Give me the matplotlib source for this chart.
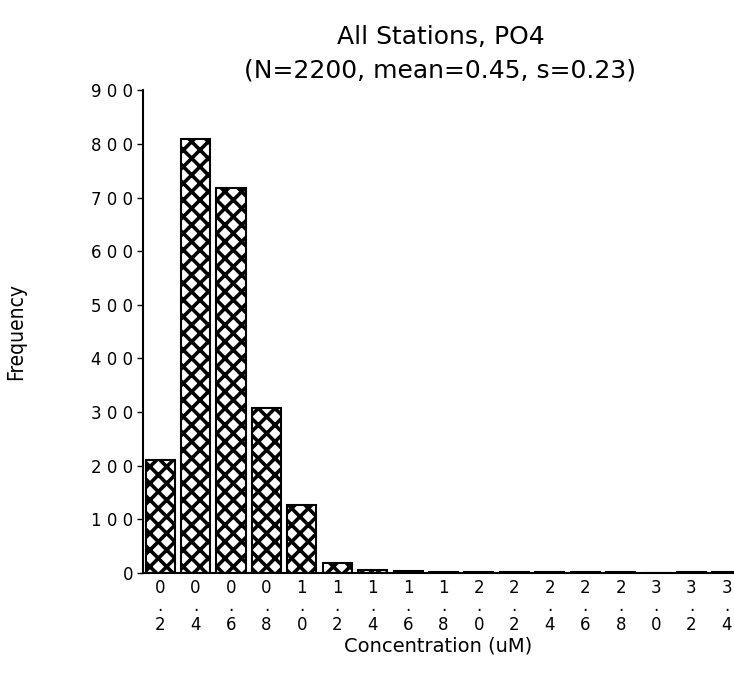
import numpy as np
import matplotlib.pyplot as plt

# Histogram of PO4 concentration, all stations
bin_labels = ["0.2", "0.4", "0.6", "0.8", "1.0", "1.2", "1.4", "1.6", "1.8",
              "2.0", "2.2", "2.4", "2.6", "2.8", "3.0", "3.2", "3.4"]
frequency = [210, 810, 718, 308, 127, 19, 5, 4, 1, 1, 1, 1, 1, 1, 0, 2, 1]
y_ticks = [0, 100, 200, 300, 400, 500, 600, 700, 800, 900]

plt.rcParams["hatch.linewidth"] = 2.6
plt.rcParams["font.family"] = ["DejaVu Sans"]

fig = plt.figure(figsize=(7.34, 6.77), dpi=100)
ax = fig.add_axes([0.195, 0.1536, 0.805, 0.713])

x = np.arange(len(bin_labels))
ax.bar(x, frequency, width=0.82, color="white", edgecolor="black",
       linewidth=1.5, hatch="xx")

ax.set_xlim(-0.48, 16.2)
ax.set_ylim(0, 900)

ax.spines["top"].set_visible(False)
ax.spines["right"].set_visible(False)
ax.spines["left"].set_linewidth(1.5)
ax.spines["bottom"].set_linewidth(1.5)

ax.set_yticks(y_ticks)
ax.set_yticklabels([" ".join(str(v)) for v in y_ticks], fontsize=12)
ax.tick_params(axis="y", length=4, width=1, pad=3)

ax.set_xticks(x)
ax.set_xticklabels(["\n".join([lab[0], ".", lab[2]]) for lab in bin_labels],
                   fontsize=12, linespacing=1.05)
ax.tick_params(axis="x", length=0, pad=4)

ax.set_xlabel("Concentration (uM)", fontsize=14, labelpad=2)
fig.text(0.022, 0.51, "Frequency", rotation=90, ha="center", va="center",
         fontsize=15, fontstretch="condensed")

fig.text(0.6, 0.935, "All Stations, PO4", ha="center", fontsize=18)
fig.text(0.6, 0.885, "(N=2200, mean=0.45, s=0.23)", ha="center", fontsize=18)

plt.savefig("out.png", dpi=100)
